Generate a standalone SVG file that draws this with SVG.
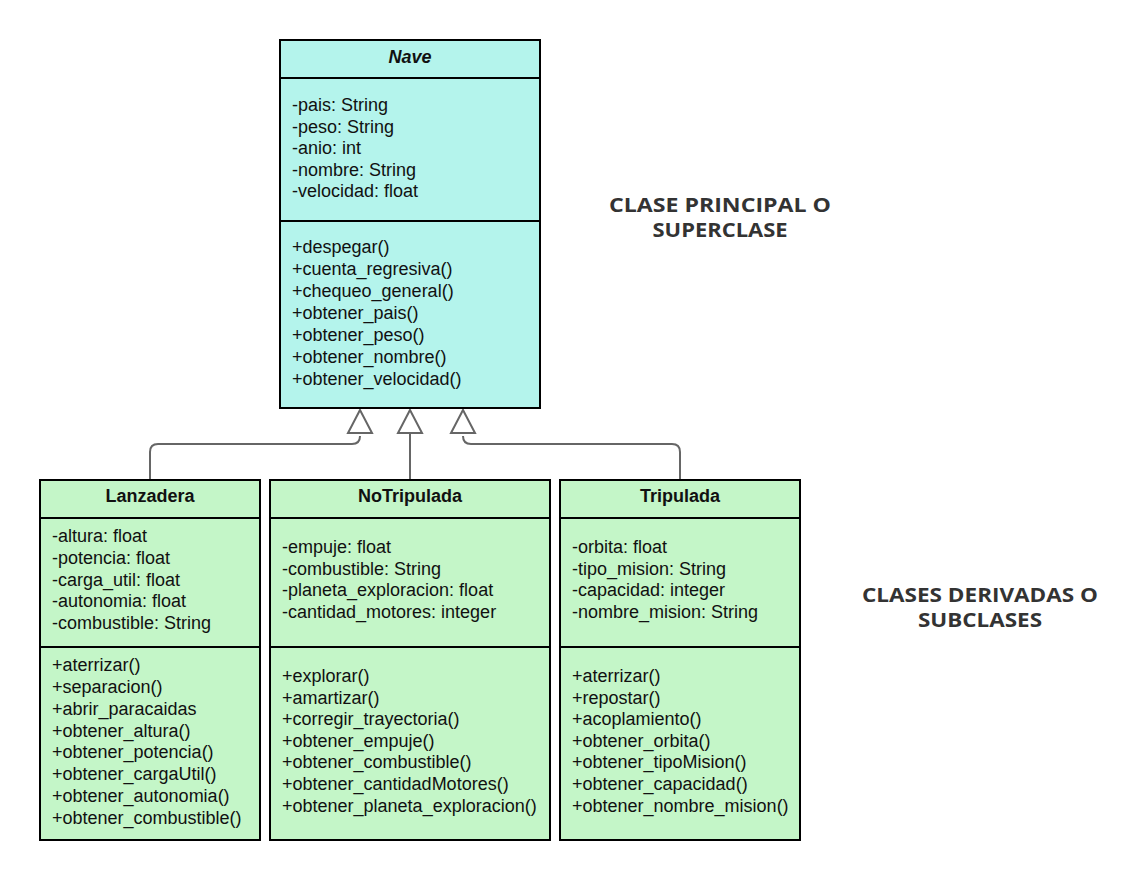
<svg xmlns="http://www.w3.org/2000/svg" width="1140" height="880" viewBox="0 0 1140 880">
  <style>
    .box { stroke: #000; stroke-width: 2; }
    .super { fill: #b4f4ec; }
    .sub { fill: #c4f6c8; }
    .sep { stroke: #000; stroke-width: 2; fill: none; }
    text { font-family: "Liberation Sans", Arial, sans-serif; font-size: 18px; fill: #111; }
    .title { font-weight: bold; text-anchor: middle; }
    .abstract { font-style: italic; }
    .note { font-family: "Open Sans", "DejaVu Sans", sans-serif; font-weight: 700; font-size: 19px; fill: #333; text-anchor: middle; }
    .link { fill: none; stroke: #666; stroke-width: 2; }
    .tri { fill: #fff; stroke: #666; stroke-width: 2; stroke-linejoin: miter; }
  </style>

  <rect width="1140" height="880" fill="#fff"/>

  <!-- generalization connectors -->
  <g id="connectors">
    <path class="link" d="M150 480 V452 Q150 444 158 444 H352 Q360 444 360 436"/>
    <path class="link" d="M410 480 V434"/>
    <path class="link" d="M680 480 V452 Q680 444 672 444 H471 Q463 444 463 436"/>
    <polygon class="tri" points="360,410 372,433 348,433"/>
    <polygon class="tri" points="410,410 422,433 398,433"/>
    <polygon class="tri" points="463,410 475,433 451,433"/>
  </g>

  <!-- superclass -->
  <g id="nave">
    <rect class="box super" x="280" y="40" width="260" height="368"/>
    <line class="sep" x1="280" y1="78" x2="540" y2="78"/>
    <line class="sep" x1="280" y1="221" x2="540" y2="221"/>
    <text class="title abstract" x="410" y="63">Nave</text>
    <text x="292" y="111">-pais: String</text>
    <text x="292" y="132.5">-peso: String</text>
    <text x="292" y="154">-anio: int</text>
    <text x="292" y="175.5">-nombre: String</text>
    <text x="292" y="197">-velocidad: float</text>
    <text x="292" y="253">+despegar()</text>
    <text x="292" y="275">+cuenta_regresiva()</text>
    <text x="292" y="297">+chequeo_general()</text>
    <text x="292" y="319">+obtener_pais()</text>
    <text x="292" y="341">+obtener_peso()</text>
    <text x="292" y="363">+obtener_nombre()</text>
    <text x="292" y="385">+obtener_velocidad()</text>
  </g>

  <!-- subclasses -->
  <g id="lanzadera">
    <rect class="box sub" x="40" y="480" width="220" height="360"/>
    <line class="sep" x1="40" y1="518" x2="260" y2="518"/>
    <line class="sep" x1="40" y1="647" x2="260" y2="647"/>
    <text class="title" x="150" y="502">Lanzadera</text>
    <text x="52" y="542">-altura: float</text>
    <text x="52" y="563.75">-potencia: float</text>
    <text x="52" y="585.5">-carga_util: float</text>
    <text x="52" y="607.25">-autonomia: float</text>
    <text x="52" y="629">-combustible: String</text>
    <text x="52" y="671">+aterrizar()</text>
    <text x="52" y="692.9">+separacion()</text>
    <text x="52" y="714.7">+abrir_paracaidas</text>
    <text x="52" y="736.6">+obtener_altura()</text>
    <text x="52" y="758.4">+obtener_potencia()</text>
    <text x="52" y="780.3">+obtener_cargaUtil()</text>
    <text x="52" y="802.1">+obtener_autonomia()</text>
    <text x="52" y="824">+obtener_combustible()</text>
  </g>

  <g id="notripulada">
    <rect class="box sub" x="270" y="480" width="280" height="360"/>
    <line class="sep" x1="270" y1="518" x2="550" y2="518"/>
    <line class="sep" x1="270" y1="647" x2="550" y2="647"/>
    <text class="title" x="410" y="502">NoTripulada</text>
    <text x="282" y="553">-empuje: float</text>
    <text x="282" y="574.5">-combustible: String</text>
    <text x="282" y="596">-planeta_exploracion: float</text>
    <text x="282" y="617.5">-cantidad_motores: integer</text>
    <text x="282" y="682">+explorar()</text>
    <text x="282" y="703.6">+amartizar()</text>
    <text x="282" y="725.2">+corregir_trayectoria()</text>
    <text x="282" y="746.8">+obtener_empuje()</text>
    <text x="282" y="768.4">+obtener_combustible()</text>
    <text x="282" y="790">+obtener_cantidadMotores()</text>
    <text x="282" y="811.6">+obtener_planeta_exploracion()</text>
  </g>

  <g id="tripulada">
    <rect class="box sub" x="560" y="480" width="240" height="360"/>
    <line class="sep" x1="560" y1="518" x2="800" y2="518"/>
    <line class="sep" x1="560" y1="647" x2="800" y2="647"/>
    <text class="title" x="680" y="502">Tripulada</text>
    <text x="572" y="553">-orbita: float</text>
    <text x="572" y="574.5">-tipo_mision: String</text>
    <text x="572" y="596">-capacidad: integer</text>
    <text x="572" y="617.5">-nombre_mision: String</text>
    <text x="572" y="682">+aterrizar()</text>
    <text x="572" y="703.6">+repostar()</text>
    <text x="572" y="725.2">+acoplamiento()</text>
    <text x="572" y="746.8">+obtener_orbita()</text>
    <text x="572" y="768.4">+obtener_tipoMision()</text>
    <text x="572" y="790">+obtener_capacidad()</text>
    <text x="572" y="811.6">+obtener_nombre_mision()</text>
  </g>

  <!-- annotations -->
  <g id="label-superclase">
    <text class="note" x="720" y="212" textLength="222" lengthAdjust="spacingAndGlyphs">CLASE PRINCIPAL O</text>
    <text class="note" x="720" y="237" textLength="135" lengthAdjust="spacingAndGlyphs">SUPERCLASE</text>
  </g>
  <g id="label-subclases">
    <text class="note" x="980" y="602" textLength="236" lengthAdjust="spacingAndGlyphs">CLASES DERIVADAS O</text>
    <text class="note" x="980" y="627" textLength="124" lengthAdjust="spacingAndGlyphs">SUBCLASES</text>
  </g>
</svg>
